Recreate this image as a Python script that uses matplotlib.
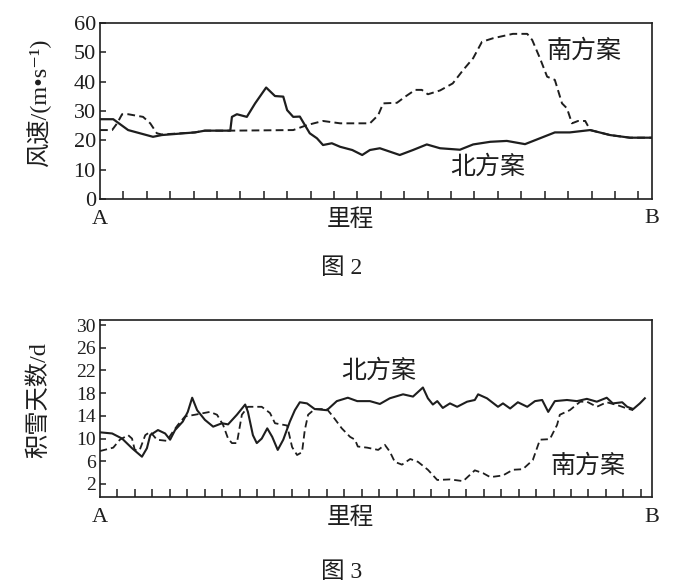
import numpy as np
import matplotlib
matplotlib.use("Agg")
import matplotlib.pyplot as plt

FAM = ['Liberation Serif', 'Noto Sans CJK SC', 'DejaVu Sans']

# --- 图2: 风速 (m/s) along mileage A->B (0-100 %) ---
wind_north_x = [0, 2.4, 5.1, 9.6, 11.2, 17.2, 19.0, 23.6, 23.9, 24.8, 26.6, 28.1, 30.1,
                31.7, 33.2, 33.9, 35.0, 36.2, 38.0, 39.3, 40.4, 42.0, 43.5, 45.7, 47.5,
                48.9, 50.7, 54.3, 56.7, 59.2, 61.6, 65.2, 67.6, 70.7, 73.7, 77.0, 82.4,
                85.1, 88.8, 92.4, 96.0, 100]
wind_north = [27.2, 27.2, 23.5, 21.2, 21.8, 22.7, 23.3, 23.3, 28.0, 28.9, 28.0, 32.6, 38.0,
              35.1, 34.9, 30.3, 28.0, 28.1, 22.4, 20.7, 18.4, 19.0, 17.8, 16.7, 15.0,
              16.7, 17.3, 15.0, 16.7, 18.6, 17.3, 16.8, 18.6, 19.5, 19.8, 18.7, 22.7,
              22.7, 23.5, 21.8, 20.9, 20.9]

wind_south_x = [0, 2.2, 3.1, 4.0, 5.1, 7.8, 9.1, 10.3, 11.2, 17.2, 19.0, 23.6, 35.0, 37.5,
                40.4, 43.5, 48.9, 50.4, 51.3, 53.8, 55.3, 57.1, 58.3, 59.4, 61.6, 63.9,
                65.8, 67.6, 69.2, 71.2, 74.8, 77.4, 78.3, 79.7, 81.0, 82.4, 83.7, 84.6,
                85.5, 86.6, 87.9, 88.8, 92.4, 96.0, 100]
wind_south = [23.5, 23.5, 25.8, 28.9, 28.9, 28.0, 25.8, 22.4, 22.0, 22.7, 23.3, 23.3, 23.5,
              25.2, 26.6, 25.8, 25.8, 28.6, 32.6, 32.8, 34.9, 37.2, 37.2, 35.7, 37.0, 39.4,
              44.0, 48.0, 53.6, 54.8, 56.3, 56.3, 54.2, 48.0, 41.7, 40.6, 32.6, 30.9,
              25.8, 26.6, 26.6, 23.5, 21.8, 20.9, 20.9]

# --- 图3: 积雪天数 (d) ---
snow_north_x = [0, 2.2, 4.0, 5.8, 7.6, 8.5, 9.1, 10.5, 11.8, 12.7, 13.6, 15.0, 15.9, 16.7,
                17.6, 19.0, 20.5, 22.1, 23.2, 24.8, 26.3, 26.8, 27.7, 28.4, 29.3, 30.3,
                31.2, 32.2, 33.2, 34.4, 35.3, 36.2, 37.5, 38.9, 41.1, 42.9, 44.9, 46.6,
                48.9, 50.7, 52.5, 54.9, 56.7, 58.5, 59.4, 60.3, 61.1, 62.1, 63.4, 64.7,
                66.5, 67.9, 68.5, 70.1, 72.1, 73.0, 74.3, 75.7, 77.4, 78.8, 80.1, 81.2,
                82.4, 84.6, 86.4, 88.2, 90.0, 91.8, 92.9, 94.6, 95.5, 96.6, 97.8, 98.7]
snow_north = [11.1, 10.9, 10.0, 8.3, 6.8, 8.3, 10.6, 11.5, 10.9, 9.8, 11.5, 13.0, 14.7, 17.2,
              15.0, 13.3, 12.1, 12.7, 12.5, 14.2, 16.0, 14.7, 10.6, 9.2, 10.0, 11.8,
              10.3, 8.0, 9.8, 13.0, 15.0, 16.4, 16.2, 15.2, 15.0, 16.6, 17.2, 16.6,
              16.6, 16.1, 17.1, 17.8, 17.4, 19.0, 17.1, 16.0, 16.6, 15.4, 16.2, 15.6,
              16.5, 16.8, 17.8, 17.1, 15.6, 16.2, 15.3, 16.4, 15.6, 16.6, 16.8, 14.7,
              16.6, 16.8, 16.6, 17.0, 16.5, 17.2, 16.2, 16.4, 15.6, 15.2, 16.2, 17.1]

snow_south_x = [0, 2.4, 3.6, 5.1, 5.8, 6.3, 7.2, 8.2, 9.1, 10.3, 12.1, 13.2, 14.1, 15.4,
                17.2, 19.9, 21.2, 22.3, 23.2, 23.9, 24.8, 25.7, 26.8, 29.3, 30.8, 31.7,
                33.9, 34.8, 35.7, 36.6, 37.1, 37.7, 38.9, 41.1, 42.2, 43.8, 45.3, 46.2,
                46.7, 48.4, 50.4, 51.6, 52.5, 53.4, 54.7, 56.2, 57.6, 59.4, 61.1, 63.4,
                65.8, 67.9, 69.4, 70.7, 73.0, 74.8, 76.6, 78.4, 79.7, 81.5, 82.8, 83.3,
                85.1, 87.0, 88.2, 90.0, 91.8, 93.7, 95.5, 96.6]
snow_south = [7.8, 8.4, 9.8, 10.6, 10.0, 8.0, 8.0, 10.6, 11.2, 9.8, 9.6, 11.2, 12.4, 13.9,
              14.2, 14.7, 14.2, 12.4, 10.0, 9.2, 9.2, 14.2, 15.6, 15.6, 14.5, 12.7,
              12.3, 8.5, 7.1, 7.6, 11.5, 14.2, 15.2, 15.2, 13.9, 11.8, 10.3, 9.8,
              8.6, 8.4, 8.0, 8.9, 7.7, 5.9, 5.4, 6.4, 5.9, 4.5, 2.7, 2.8,
              2.5, 4.4, 3.9, 3.2, 3.5, 4.5, 4.6, 6.2, 9.8, 9.9, 12.4, 14.2,
              15.0, 16.5, 16.5, 15.6, 16.4, 15.9, 15.3, 15.0]

wind_yticks = [0, 10, 20, 30, 40, 50, 60]
snow_yticks = [2, 6, 10, 14, 18, 22, 26, 30]

W, H = 693, 588
fig = plt.figure(figsize=(W / 100, H / 100), dpi=100)
ax1 = fig.add_axes([100 / W, 1 - 199 / H, 552 / W, 176 / H])
ax2 = fig.add_axes([100 / W, 1 - 497 / H, 552 / W, 177 / H])

col = '#1e1e1e'
kw = dict(solid_joinstyle='round', dash_joinstyle='round')
ax1.plot(wind_north_x, wind_north, color=col, lw=1.6, **kw)
ax1.plot(wind_south_x, wind_south, color=col, lw=1.4, ls=(0, (4, 2.2)), **kw)
ax2.plot(snow_north_x, snow_north, color=col, lw=1.5, **kw)
ax2.plot(snow_south_x, snow_south, color=col, lw=1.3, ls=(0, (4, 2.2)), **kw)

ax1.set_xlim(0, 100)
ax1.set_ylim(0, 60)
ax1.set_yticks(wind_yticks)
ax1.set_xticks(np.arange(1, 24) * 4.24)
ax2.set_xlim(0, 100)
ax2.set_ylim(-0.3, 30.9)
ax2.set_yticks(snow_yticks)
ax2.set_xticks(np.arange(1, 32) * 3.16)

for ax, fs in ((ax1, 16), (ax2, 14)):
    ax.set_xticklabels([])
    ax.tick_params(axis='x', direction='in', length=6, width=1.1, color=col)
    ax.tick_params(axis='y', direction='in', length=4, width=1.1, color=col,
                   labelsize=fs, pad=3, labelcolor=col)
    for lab in ax.get_yticklabels():
        lab.set_family('Liberation Serif')
    for sp in ax.spines.values():
        sp.set_linewidth(1.2)
        sp.set_color(col)


def put(px, py, s, size, **kw):
    fig.text(px / W, 1 - py / H, s, fontsize=size, family=FAM, color=col,
             ha=kw.pop('ha', 'center'), va=kw.pop('va', 'center'), **kw)


# 图2 texts
put(39, 103, '风速/(m•s⁻¹)', 17.5, rotation=90)
put(100, 220, 'A', 16)
put(652, 218, 'B', 16)
put(350, 220, '里程', 17)
put(342, 269, '图 2', 17)
put(584, 51, '南方案', 18)
put(488, 167, '北方案', 18)

# 图3 texts
put(39, 400, '积雪天数/d', 17.5, rotation=90)
put(100, 518, 'A', 16)
put(652, 518, 'B', 16)
put(350, 518, '里程', 17)
put(342, 573, '图 3', 17)
put(379, 371, '北方案', 18)
put(588, 466, '南方案', 18)

fig.savefig('out.png', dpi=100)
